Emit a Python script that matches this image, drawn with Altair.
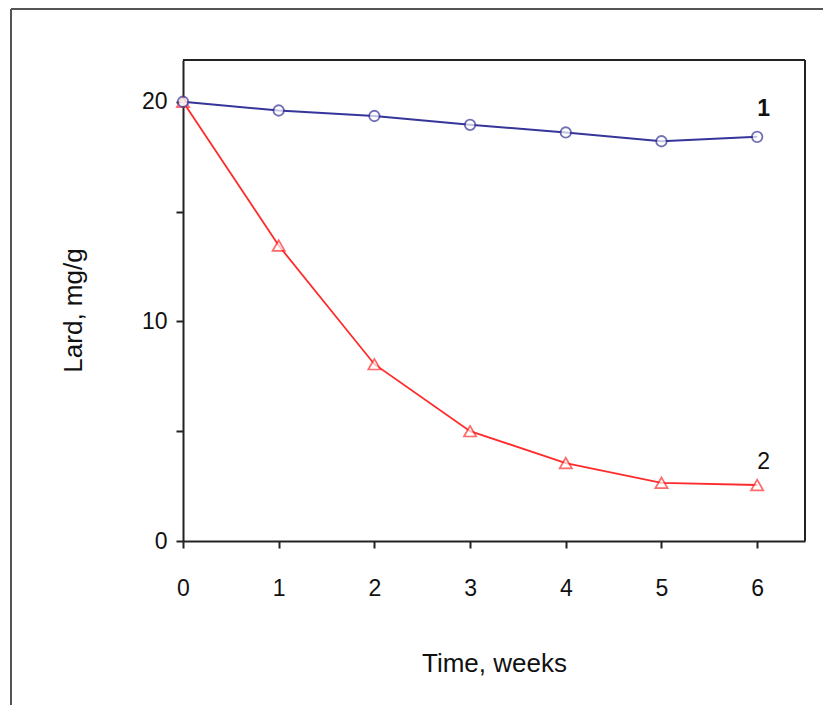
import altair as alt
import pandas as pd

weeks = [0, 1, 2, 3, 4, 5, 6]
series1 = [20.0, 19.6, 19.35, 18.95, 18.6, 18.2, 18.4]
series2 = [20.0, 13.45, 8.05, 5.0, 3.55, 2.65, 2.55]
label_text = ["1", "2"]
label_x = [6.0, 6.0]
label_y = [19.65, 3.6]
label_weight = ["bold", "normal"]

FONT = "Liberation Sans"
BLUE = "#35359a"
RED = "#ff2a2a"

df1 = pd.DataFrame({"t": weeks, "v": series1})
df2 = pd.DataFrame({"t": weeks, "v": series2})
dlab = pd.DataFrame({"t": label_x, "v": label_y, "s": label_text, "w": label_weight})

xs = alt.Scale(domain=[0, 6.5], nice=False, zero=False)
ys = alt.Scale(domain=[0, 21.9], nice=False)

xaxis = alt.Axis(
    values=weeks, format="d", title="Time, weeks", grid=False, tickSize=7, tickWidth=2,
    tickColor="#222", domainColor="#222", domainWidth=2, labelPadding=29, labelFlush=False,
    labelFontSize=23, labelFont=FONT, labelColor="#111",
    titleFont=FONT, titleFontSize=26, titleFontWeight="normal", titleColor="#111",
    titleX=311, titleY=122, titleBaseline="middle", titleAlign="center",
)
yaxis = alt.Axis(
    values=[0, 5, 10, 15, 20], title="Lard, mg/g", grid=False, tickSize=7, tickWidth=2,
    tickColor="#222", domainColor="#222", domainWidth=2, labelPadding=9, labelFlush=False,
    labelExpr="datum.value % 10 == 0 ? datum.label : ''",
    labelFontSize=23, labelFont=FONT, labelColor="#111",
    titleFont=FONT, titleFontSize=26, titleFontWeight="normal", titleColor="#111",
    titleX=-110, titleY=250, titleBaseline="middle", titleAlign="center", titleAngle=-90,
)

line1 = alt.Chart(df1).mark_line(color=BLUE, strokeWidth=2).encode(
    x=alt.X("t:Q", scale=xs, axis=xaxis), y=alt.Y("v:Q", scale=ys, axis=yaxis))
pts1 = alt.Chart(df1).mark_point(shape="circle", size=110, color=BLUE, fill="white",
                                 filled=True, stroke=BLUE, strokeWidth=1.8).encode(
    x=alt.X("t:Q", scale=xs), y=alt.Y("v:Q", scale=ys))
line2 = alt.Chart(df2).mark_line(color=RED, strokeWidth=1.8).encode(
    x=alt.X("t:Q", scale=xs), y=alt.Y("v:Q", scale=ys))
pts2 = alt.Chart(df2).mark_point(shape="triangle-up", size=150, color=RED, fill="white",
                                 filled=True, stroke=RED, strokeWidth=1.7).encode(
    x=alt.X("t:Q", scale=xs), y=alt.Y("v:Q", scale=ys))
lab1 = alt.Chart(dlab[dlab.w == "bold"]).mark_text(font=FONT, fontSize=23, fontWeight="bold",
                                                   color="#111", baseline="middle", align="left").encode(
    x=alt.X("t:Q", scale=xs), y=alt.Y("v:Q", scale=ys), text="s:N")
lab2 = alt.Chart(dlab[dlab.w == "normal"]).mark_text(font=FONT, fontSize=23, fontWeight="normal",
                                                     color="#111", baseline="middle", align="left").encode(
    x=alt.X("t:Q", scale=xs), y=alt.Y("v:Q", scale=ys), text="s:N")

frame_df = pd.DataFrame({"k": [0]})
frame_v = alt.Chart(frame_df).mark_rule(color="#555", strokeWidth=2).encode(
    x=alt.value(-172), y=alt.value(-51), y2=alt.value(700))
frame_h = alt.Chart(frame_df).mark_rule(color="#555", strokeWidth=2).encode(
    x=alt.value(-172), x2=alt.value(700), y=alt.value(-51))
box_top = alt.Chart(frame_df).mark_rule(color="#222", strokeWidth=2).encode(
    x=alt.value(0), x2=alt.value(622), y=alt.value(0))
box_right = alt.Chart(frame_df).mark_rule(color="#222", strokeWidth=2).encode(
    x=alt.value(622), y=alt.value(0), y2=alt.value(481))

chart = alt.layer(line2, line1, pts2, pts1, lab1, lab2, frame_v, frame_h, box_top, box_right).properties(
    width=622, height=481,
    background="white",
    autosize=alt.AutoSizeParams(type="none"),
    padding={"left": 175, "top": 52, "right": 18, "bottom": 164},
).configure_view(stroke=None)

chart.save("out.html", embed_options={"renderer": "svg", "actions": False})
